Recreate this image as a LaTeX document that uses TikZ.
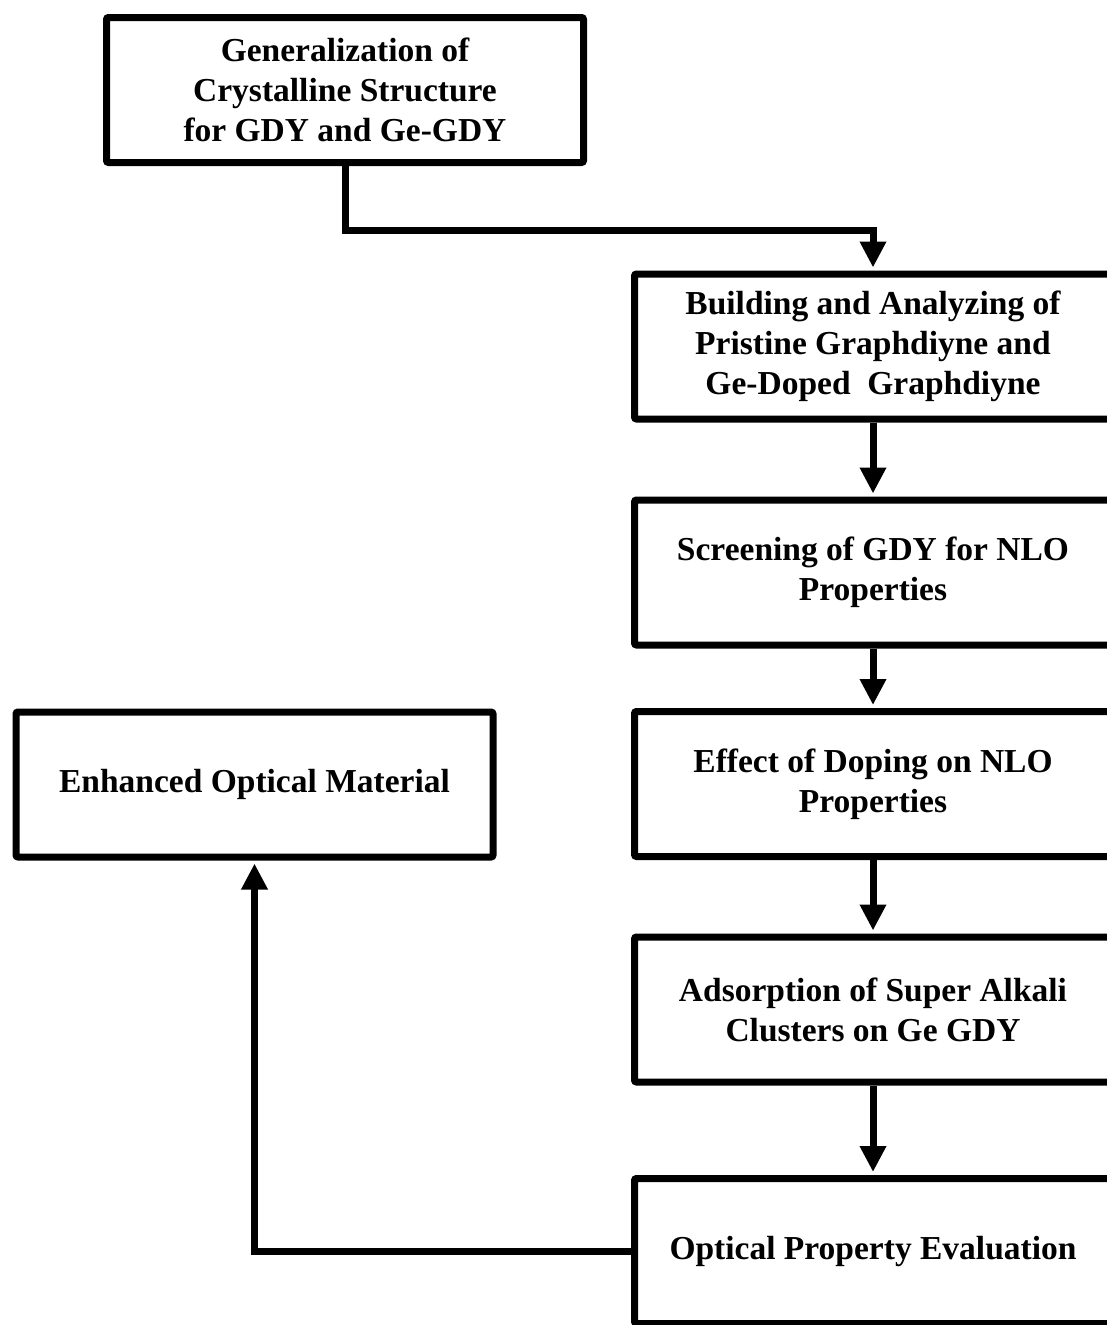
\documentclass[tikz,border=0pt]{standalone}
\usepackage{fontspec}
\setmainfont{Liberation Serif}
\usetikzlibrary{arrows.meta}
\begin{document}
\begin{tikzpicture}[x=1pt,y=-1pt,
  stage/.style={draw,line width=7pt,rounded corners=2pt,
    minimum width=477pt,minimum height=145pt,align=center,
    font=\fontsize{33.5}{40}\selectfont\bfseries},
  flow/.style={line width=7pt,-{Triangle[length=26pt,width=25pt]},shorten >=3pt}]
\useasboundingbox (0,0) rectangle (1107,1325);
\clip (0,0) rectangle (1107,1325);

% Top box
\node[stage] (gen) at (345,90) {Generalization of\\Crystalline Structure\\for GDY and Ge-GDY};

% Right column of stages
\node[stage] (build) at (873,346.5) {Building and Analyzing of\\Pristine Graphdiyne and\\Ge-Doped~ Graphdiyne};
\node[stage] (screen) at (873,572.5) {Screening of GDY for NLO\\Properties};
\node[stage] (doping) at (873,784) {Effect of Doping on NLO\\Properties};
\node[stage] (adsorb) at (873,1009.5) {Adsorption of Super Alkali\\Clusters on Ge GDY};
\node[stage] (optical) at (873,1251) {Optical Property Evaluation};

% Result box on the left
\node[stage] (enhanced) at (254.5,784.5) {Enhanced Optical Material};

% Connectors
\draw[flow] (gen.south) -- ++(0,64.5) -| (build.north);
\draw[flow] (build) -- (screen);
\draw[flow] (screen) -- (doping);
\draw[flow] (doping) -- (adsorb);
\draw[flow] (adsorb) -- (optical);
\draw[flow] (optical.west) -| (enhanced.south);
\end{tikzpicture}
\end{document}
